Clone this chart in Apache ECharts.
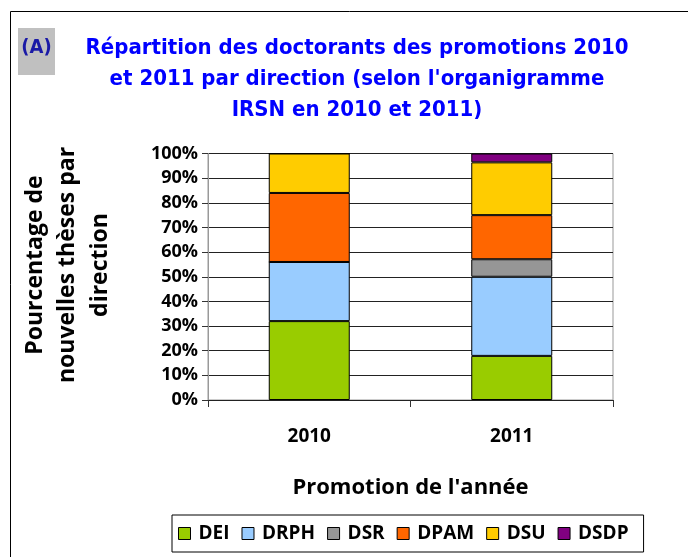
<!DOCTYPE html>
<html>
<head>
<meta charset="utf-8">
<script src="https://cdn.jsdelivr.net/npm/echarts@6/dist/echarts.min.js"></script>
<style>
  html, body { margin: 0; padding: 0; background: #fff; }
  #chart { width: 688px; height: 557px; }
</style>
</head>
<body>
<div id="chart"></div>
<script>
// données (pourcentages)
var years = ['2010', '2011'];
var directions = ['DEI', 'DRPH', 'DSR', 'DPAM', 'DSU', 'DSDP'];
var dei = [32, 17.9];
var drph = [24, 32.1];
var dsr = [0, 7.1];
var dpam = [28, 17.9];
var dsu = [16, 21.4];
var dsdp = [0, 3.6];
var colors = ['#99cc00', '#99ccff', '#969696', '#ff6600', '#ffcc00', '#800080'];

var values = [dei, drph, dsr, dpam, dsu, dsdp];

var myChart = echarts.init(document.getElementById('chart'));

var series = directions.map(function (name, i) {
  return {
    name: name,
    type: 'bar',
    stack: 'total',
    barWidth: '40%',
    data: values[i],
    itemStyle: { color: colors[i], borderColor: '#000', borderWidth: 1 }
  };
});

var boldFont = '"Open Sans", "DejaVu Sans", sans-serif';
var titleFont = '"DejaVu Sans Condensed", sans-serif';

var option = {
  animation: false,
  color: colors,
  grid: { left: 208, top: 153.5, right: 75, bottom: 157, show: true, borderColor: '#999', borderWidth: 1 },
  graphic: [
    { type: 'rect', shape: { x: 10.5, y: 11.5, width: 700, height: 600 },
      style: { fill: 'none', stroke: '#000', lineWidth: 1 } },
    { type: 'rect', shape: { x: 18, y: 28, width: 37, height: 47 },
      style: { fill: '#c0c0c0' } },
    { type: 'text', x: 36.5, y: 38,
      style: { text: '(A)', fill: '#1a1aa6', align: 'center', font: 'bold 20px ' + titleFont } },
    { type: 'text', x: 357, y: 32.5,
      style: {
        text: "Répartition des doctorants des promotions 2010\net 2011 par direction (selon l'organigramme\nIRSN en 2010 et 2011)",
        fill: '#0000ff', align: 'center', lineHeight: 31,
        font: 'bold 22px ' + titleFont
      }
    },
    { type: 'text', rotation: Math.PI / 2, x: 19, y: 265,
      style: {
        text: 'Pourcentage de\nnouvelles thèses par\ndirection',
        fill: '#000', align: 'center', verticalAlign: 'top', lineHeight: 32.5,
        font: 'bold 23px ' + boldFont
      }
    }
  ],
  legend: {
    left: 172, top: 515,
    data: directions,
    icon: 'rect',
    itemWidth: 12, itemHeight: 12,
    itemGap: 12,
    padding: [9, 15, 9, 6],
    borderColor: '#000', borderWidth: 1,
    itemStyle: { borderColor: '#000', borderWidth: 1 },
    textStyle: { fontFamily: boldFont, fontWeight: 'bold', fontSize: 19, color: '#000', padding: [0, 0, 0, 3] }
  },
  xAxis: {
    type: 'category',
    data: years,
    name: "Promotion de l'année",
    nameLocation: 'middle',
    nameGap: 77,
    nameTextStyle: { fontFamily: boldFont, fontWeight: 'bold', fontSize: 22, color: '#000' },
    axisLine: { show: false },
    axisTick: { show: true, alignWithLabel: false, length: 7, lineStyle: { color: '#333' } },
    axisLabel: { margin: 27, fontFamily: boldFont, fontWeight: 'bold', fontSize: 19, color: '#000' }
  },
  yAxis: {
    type: 'value',
    min: 0, max: 100, interval: 10,
    axisLine: { show: true, lineStyle: { color: '#999' } },
    axisTick: { show: true, length: 6, inside: false, lineStyle: { color: '#333' } },
    splitLine: { show: true, lineStyle: { color: '#222', width: 1 } },
    axisLabel: {
      margin: 10,
      formatter: '{value}%',
      fontFamily: boldFont, fontWeight: 'bold', fontSize: 18, color: '#000'
    }
  },
  series: series
};

myChart.setOption(option);
</script>
</body>
</html>
